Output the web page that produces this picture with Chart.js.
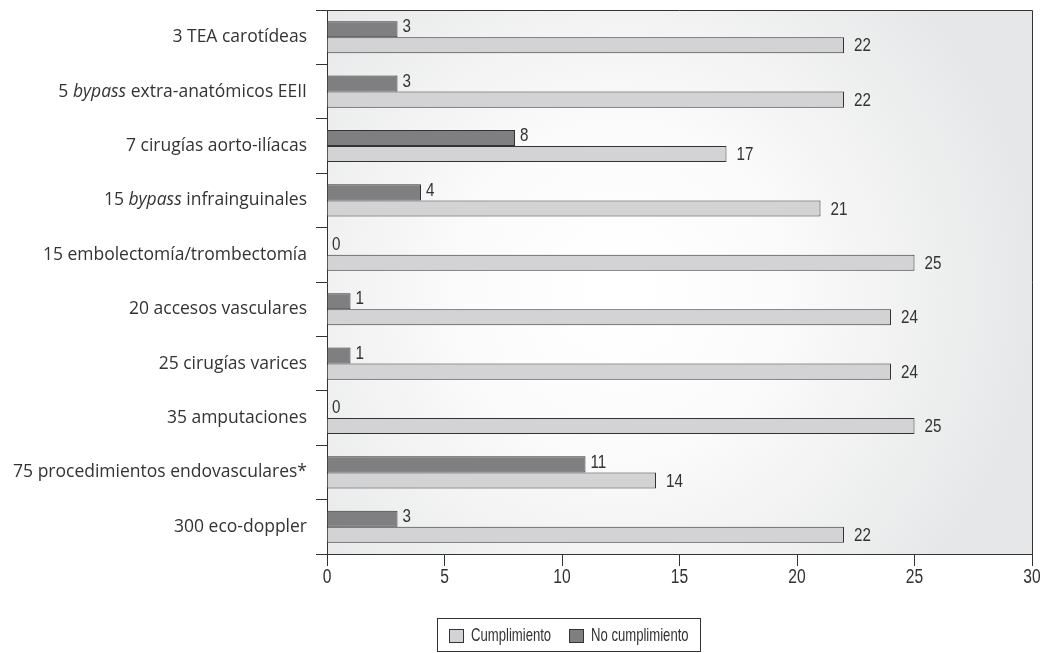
<!DOCTYPE html>
<html lang="es">
  <head>
    <meta charset="UTF-8" />
    <title>Cumplimiento de procedimientos</title>
    <style>
      body { margin: 0; background: #fff; }
      #wrap { width: 1054px; height: 653px; }
    </style>
  </head>
  <body>
    <div id="wrap"><canvas id="myChart"></canvas></div>

    <script src="https://cdn.jsdelivr.net/npm/chart.js@4.4.1/dist/chart.umd.min.js"></script>
    <script>
      // _texto_ = cursiva
      const categorias = [
        '3 TEA carotídeas',
        '5 _bypass_ extra-anatómicos EEII',
        '7 cirugías aorto-ilíacas',
        '15 _bypass_ infrainguinales',
        '15 embolectomía/trombectomía',
        '20 accesos vasculares',
        '25 cirugías varices',
        '35 amputaciones',
        '75 procedimientos endovasculares*',
        '300 eco-doppler',
      ]
      const noCumplimiento = [3, 3, 8, 4, 0, 1, 1, 0, 11, 3]
      const cumplimiento = [22, 22, 17, 21, 25, 24, 24, 25, 14, 22]
      const xTicks = [0, 5, 10, 15, 20, 25, 30]

      const colorOscuro = '#7f7f81'
      const colorClaro = '#d3d3d5'
      const colorTexto = '#333333'
      const fuente = '"Open Sans", "Liberation Sans", sans-serif'
      const fuenteNum = '"Liberation Sans", Arial, sans-serif'

      // texto estrecho (condensado) escalando en horizontal
      function textoEstrecho(ctx, txt, x, y, align, size, k = 0.8) {
        ctx.save()
        ctx.font = size + 'px ' + fuenteNum
        ctx.textBaseline = 'middle'
        const w = ctx.measureText(txt).width * k
        let x0 = x
        if (align === 'center') x0 = x - w / 2
        if (align === 'right') x0 = x - w
        ctx.translate(x0, y)
        ctx.scale(k, 1)
        ctx.fillText(txt, 0, 0)
        ctx.restore()
      }

      // fondo degradado + marco
      const fondoPlugin = {
        id: 'fondo',
        beforeDraw(chart) {
          const { ctx, chartArea: a } = chart
          const g = ctx.createRadialGradient(620, 290, 20, 620, 290, 420)
          g.addColorStop(0, '#ffffff')
          g.addColorStop(0.35, '#fbfbfb')
          g.addColorStop(1, '#e6e7e8')
          ctx.save()
          ctx.fillStyle = g
          ctx.fillRect(a.left, a.top, a.right - a.left, a.bottom - a.top)
          ctx.restore()
        },
        afterDraw(chart) {
          const { ctx, chartArea: a } = chart
          ctx.save()
          ctx.strokeStyle = colorTexto
          ctx.lineWidth = 1
          ctx.beginPath()
          ctx.moveTo(a.left, a.top + 0.5)
          ctx.lineTo(a.right + 0.5, a.top + 0.5)
          ctx.lineTo(a.right + 0.5, a.bottom)
          ctx.stroke()
          ctx.restore()
        },
      }

      // etiquetas de ejes (categorias con cursiva, numeros condensados)
      const etiquetasPlugin = {
        id: 'etiquetas',
        afterDraw(chart) {
          const { ctx } = chart
          const y = chart.scales.y
          const x = chart.scales.x
          ctx.save()
          ctx.fillStyle = colorTexto
          ctx.textBaseline = 'middle'
          categorias.forEach((txt, i) => {
            const py = y.getPixelForValue(i)
            const partes = txt.split('_')
            let px = 307
            for (let k = partes.length - 1; k >= 0; k--) {
              ctx.font = (k % 2 ? 'italic ' : '') + '17.5px ' + fuente
              const w = ctx.measureText(partes[k]).width
              px -= w
              ctx.fillText(partes[k], px, py)
            }
          })
          xTicks.forEach((v) => {
            textoEstrecho(ctx, String(v), x.getPixelForValue(v), 577, 'center', 20, 0.78)
          })
          ctx.restore()
        },
      }

      // valores al final de cada barra
      const valoresPlugin = {
        id: 'valores',
        afterDatasetsDraw(chart) {
          const { ctx } = chart
          ctx.save()
          ctx.fillStyle = colorTexto
          chart.data.datasets.forEach((ds, di) => {
            const meta = chart.getDatasetMeta(di)
            meta.data.forEach((bar, i) => {
              const off = di === 0 ? 5 : 10
              const dy = di === 0 ? -2 : 1
              textoEstrecho(ctx, String(ds.data[i]), bar.x + off, bar.y + dy, 'left', 19)
            })
          })
          ctx.restore()
        },
      }

      // leyenda con recuadro
      const leyendaPlugin = {
        id: 'leyenda',
        afterDraw(chart) {
          const { ctx } = chart
          ctx.save()
          ctx.strokeStyle = colorTexto
          ctx.lineWidth = 1
          ctx.strokeRect(437.5, 618.5, 263, 33)
          const items = [
            { label: chart.data.datasets[1].label, color: colorClaro, x: 449 },
            { label: chart.data.datasets[0].label, color: colorOscuro, x: 569 },
          ]
          items.forEach((it) => {
            ctx.fillStyle = it.color
            ctx.fillRect(it.x + 0.5, 629.5, 14, 13)
            ctx.strokeRect(it.x + 0.5, 629.5, 14, 13)
            ctx.fillStyle = colorTexto
            textoEstrecho(ctx, it.label, it.x + 22, 636, 'left', 19, 0.69)
          })
          ctx.restore()
        },
      }

      new Chart('myChart', {
        type: 'bar',
        data: {
          labels: categorias,
          datasets: [
            {
              label: 'No cumplimiento',
              data: noCumplimiento,
              backgroundColor: colorOscuro,
              borderColor: colorTexto,
              borderWidth: 1,
            },
            {
              label: 'Cumplimiento',
              data: cumplimiento,
              backgroundColor: colorClaro,
              borderColor: colorTexto,
              borderWidth: 1,
            },
          ],
        },
        options: {
          indexAxis: 'y',
          responsive: true,
          maintainAspectRatio: false,
          animation: false,
          categoryPercentage: 0.59,
          barPercentage: 1,
          layout: { padding: { top: 10, right: 22, left: 0, bottom: 0 } },
          plugins: {
            legend: { display: false },
            tooltip: { enabled: false },
          },
          scales: {
            x: {
              min: 0,
              max: 30,
              afterBuildTicks(scale) {
                scale.ticks = xTicks.map((v) => ({ value: v }))
              },
              afterFit(scale) {
                scale.height = 99
              },
              grid: {
                drawOnChartArea: false,
                color: colorTexto,
                tickLength: 12,
              },
              border: { color: colorTexto },
              ticks: { display: false },
            },
            y: {
              afterFit(scale) {
                scale.width = 327
              },
              grid: {
                offset: true,
                drawOnChartArea: false,
                color: colorTexto,
                tickLength: 11,
              },
              border: { color: colorTexto },
              ticks: { display: false },
            },
          },
        },
        plugins: [fondoPlugin, etiquetasPlugin, valoresPlugin, leyendaPlugin],
      })
    </script>
  </body>
</html>
